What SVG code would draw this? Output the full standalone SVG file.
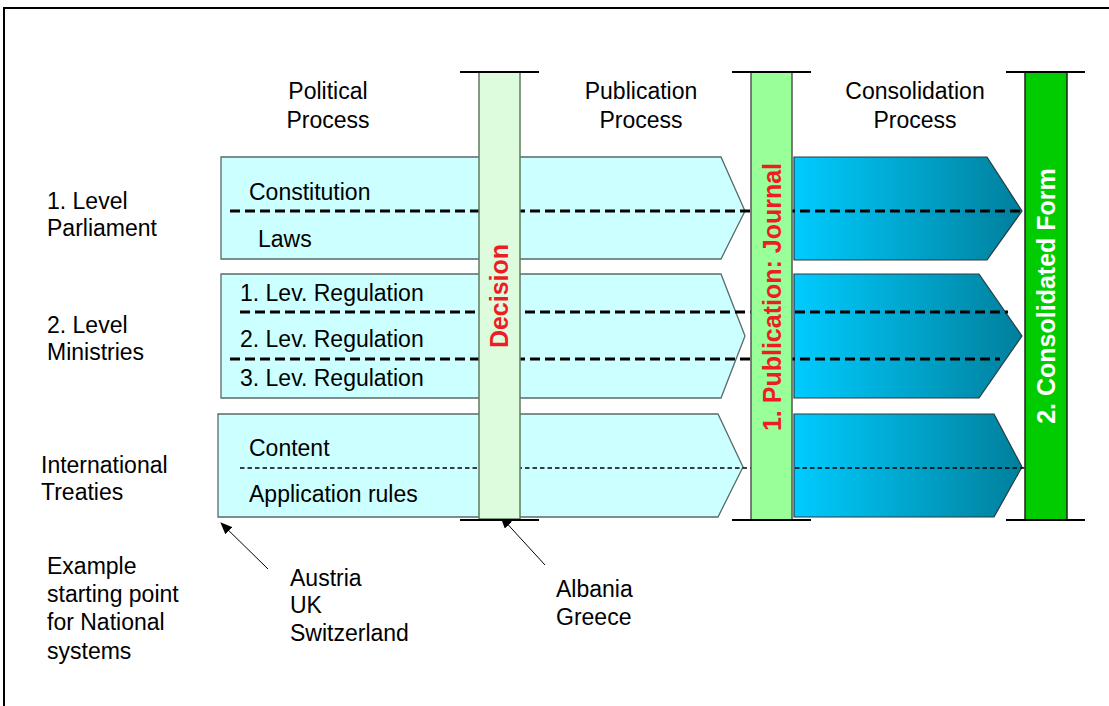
<svg xmlns="http://www.w3.org/2000/svg" width="1109" height="706" viewBox="0 0 1109 706">
<style>
text{font-family:"Liberation Sans",Arial,sans-serif;fill:#000}
.t{font-size:23px}
.c{text-anchor:middle}
.v{font-size:25px;font-weight:bold;text-anchor:middle}
.la{fill:#ccffff;stroke:#5a6a6a;stroke-width:1.3}
.da{fill:url(#g);stroke:#2a3a40;stroke-width:1.2}
.dl{stroke:#000;stroke-width:3;stroke-dasharray:10,5;fill:none}
.dt{stroke:#000;stroke-width:1.6;stroke-dasharray:4.5,3;fill:none}
.cap{stroke:#000;stroke-width:2}
.an{stroke:#000;stroke-width:1;marker-end:url(#ah)}
</style>
<defs>
<linearGradient id="g" x1="0" y1="0" x2="1" y2="0">
<stop offset="0" stop-color="#00ccff"/>
<stop offset="1" stop-color="#007f9c"/>
</linearGradient>
<marker id="ah" markerWidth="12" markerHeight="10" refX="11" refY="5" orient="auto" markerUnits="userSpaceOnUse">
<path d="M0,0 L12,5 L0,10 Z" fill="#000"/>
</marker>
</defs>
<rect width="1109" height="706" fill="#fff"/>
<path d="M4,706 V8 H1109" fill="none" stroke="#000" stroke-width="2"/>

<g id="headers">
<text class="t c" x="328" y="99">Political</text>
<text class="t c" x="328" y="128">Process</text>
<text class="t c" x="641" y="99">Publication</text>
<text class="t c" x="641" y="128">Process</text>
<text class="t c" x="915" y="99">Consolidation</text>
<text class="t c" x="915" y="128">Process</text>
</g>

<g id="row-labels">
<text class="t" x="47" y="209">1. Level</text>
<text class="t" x="47" y="236">Parliament</text>
<text class="t" x="47" y="333">2. Level</text>
<text class="t" x="47" y="360">Ministries</text>
<text class="t" x="41" y="473">International</text>
<text class="t" x="41" y="500">Treaties</text>
</g>

<g id="row1">
<path class="la" d="M221,157 H721 L745,211 L721,259 H221 Z"/>
<path class="da" d="M794,157 H987 L1022,211 L987,260 H794 Z"/>
<text class="t" x="249" y="200">Constitution</text>
<text class="t" x="258" y="247">Laws</text>
</g>
<g id="row2">
<path class="la" d="M221,274 H721 L745,336 L721,398 H221 Z"/>
<path class="da" d="M794,274 H979 L1022,336 L979,398 H794 Z"/>
<text class="t" x="240" y="301">1. Lev. Regulation</text>
<text class="t" x="240" y="347">2. Lev. Regulation</text>
<text class="t" x="240" y="386">3. Lev. Regulation</text>
</g>
<g id="row3">
<path class="la" d="M218,414 H718 L743,467 L718,517 H218 Z"/>
<path class="da" d="M794,414 H994 L1022,467 L994,517 H794 Z"/>
<text class="t" x="249" y="456">Content</text>
<text class="t" x="249" y="502">Application rules</text>
</g>

<g id="connectors">
<line class="dl" x1="230" y1="211" x2="1022" y2="211"/>
<line class="dl" x1="240" y1="312" x2="1008" y2="312"/>
<line class="dl" x1="230" y1="359" x2="1000" y2="359"/>
<line class="dt" x1="240" y1="468" x2="1025" y2="468"/>
<line class="an" x1="268" y1="569" x2="221" y2="523"/>
<line class="an" x1="545" y1="565" x2="501" y2="517"/>
</g>

<g id="decision">
<rect x="479" y="72" width="41" height="447" fill="#ddfcdd" stroke="#5f7a5f" stroke-width="1.5"/>
<line class="cap" x1="460" y1="72" x2="539" y2="72"/>
<line class="cap" x1="460" y1="520" x2="539" y2="520"/>
<text class="v" transform="translate(508,296) rotate(-90)" style="fill:#ee1c25">Decision</text>
</g>
<g id="publication">
<rect x="751" y="72" width="41" height="448" fill="#99ff99" stroke="#555" stroke-width="1.5"/>
<line class="cap" x1="732" y1="72" x2="811" y2="72"/>
<line class="cap" x1="732" y1="520" x2="811" y2="520"/>
<text class="v" transform="translate(781,297) rotate(-90)" style="fill:#ee1c25">1. Publication: Journal</text>
</g>
<g id="consolidated">
<rect x="1025" y="72" width="42" height="448" fill="#00cc00" stroke="#222" stroke-width="1.5"/>
<line class="cap" x1="1006" y1="72" x2="1085" y2="72"/>
<line class="cap" x1="1006" y1="520" x2="1085" y2="520"/>
<text class="v" transform="translate(1055,296) rotate(-90)" style="fill:#fff">2. Consolidated Form</text>
</g>

<g id="notes">
<text class="t" x="47" y="574">Example</text>
<text class="t" x="47" y="602">starting point</text>
<text class="t" x="47" y="630">for National</text>
<text class="t" x="47" y="659">systems</text>
<text class="t" x="290" y="586">Austria</text>
<text class="t" x="290" y="613">UK</text>
<text class="t" x="290" y="641">Switzerland</text>
<text class="t" x="556" y="597">Albania</text>
<text class="t" x="556" y="625">Greece</text>
</g>
</svg>
